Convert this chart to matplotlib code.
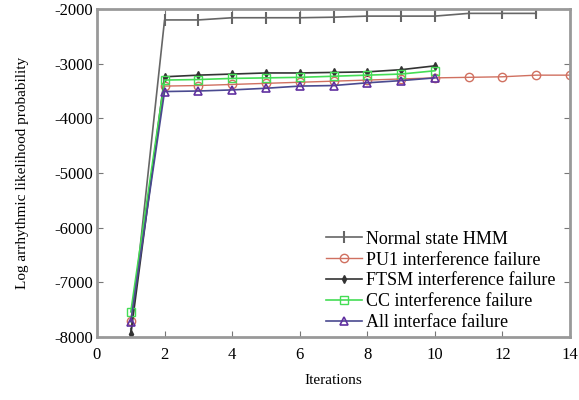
import matplotlib
matplotlib.use("Agg")
import matplotlib.pyplot as plt

plt.rcParams['font.family'] = ['Liberation Serif', 'DejaVu Serif']
plt.rcParams['axes.unicode_minus'] = False

x_normal = [1, 2, 3, 4, 5, 6, 7, 8, 9, 10, 11, 12, 13]
normal = [-7950, -2200, -2200, -2160, -2160, -2160, -2150, -2130, -2130, -2130, -2080, -2080, -2080]

x_pu1 = [1, 2, 3, 4, 5, 6, 7, 8, 9, 10, 11, 12, 13, 14]
pu1 = [-7700, -3410, -3400, -3380, -3360, -3340, -3320, -3300, -3280, -3260, -3250, -3240, -3210, -3210]

x_ftsm = [1, 2, 3, 4, 5, 6, 7, 8, 9, 10]
ftsm = [-7950, -3240, -3210, -3190, -3170, -3170, -3160, -3150, -3110, -3040]

x_cc = [1, 2, 3, 4, 5, 6, 7, 8, 9, 10]
cc = [-7540, -3300, -3290, -3270, -3260, -3250, -3230, -3210, -3190, -3130]

x_all = [1, 2, 3, 4, 5, 6, 7, 8, 9, 10]
allf = [-7720, -3510, -3500, -3480, -3450, -3410, -3400, -3350, -3310, -3260]

labels = ["Normal state HMM", "PU1 interference failure", "FTSM interference failure",
          "CC interference failure", "All interface failure"]

fig = plt.figure(figsize=(5.79, 4.00), dpi=100)
ax = fig.add_axes([0.1675, 0.1575, 0.817, 0.82])

ax.plot(x_normal, normal, color='#666666', lw=1.2, marker='|', ms=8, mew=1.5, label=labels[0])
ax.plot(x_pu1, pu1, color='#d07060', lw=1.0, marker='o', ms=6, mfc='none', mew=1.0, label=labels[1])
ax.plot(x_ftsm, ftsm, color='#333333', lw=1.2, marker='d', ms=4, label=labels[2])
ax.plot(x_cc, cc, color='#44dd55', lw=1.2, marker='s', ms=6, mfc='none', mew=1.0, label=labels[3])
ax.plot(x_all, allf, color='#4a4a90', lw=1.2, marker='^', ms=6, mfc='none', mec='#6030a0', mew=1.2, label=labels[4])

ax.set_xlim(0, 14)
ax.set_ylim(-8000, -2000)
ax.set_xticks(range(0, 15, 2))
ax.set_yticks(range(-8000, -1999, 1000))
ax.tick_params(direction='in', top=True, right=True, labelsize=12, length=4, color='#777777', pad=3)
ax.tick_params(axis='x', pad=7)
for s in ax.spines.values():
    s.set_color('#999999')
    s.set_linewidth(2)

ax.set_xlabel("Iterations", fontsize=11, labelpad=8)
ax.set_ylabel("Log arrhythmic likelihood probability", fontsize=11, labelpad=18)

ax.legend(loc='lower right', frameon=False, fontsize=13, handlelength=2.0,
          borderaxespad=0.0, labelspacing=0.22, handletextpad=0.25, bbox_to_anchor=(0.985, -0.005))

fig.savefig("out.png", dpi=100)
